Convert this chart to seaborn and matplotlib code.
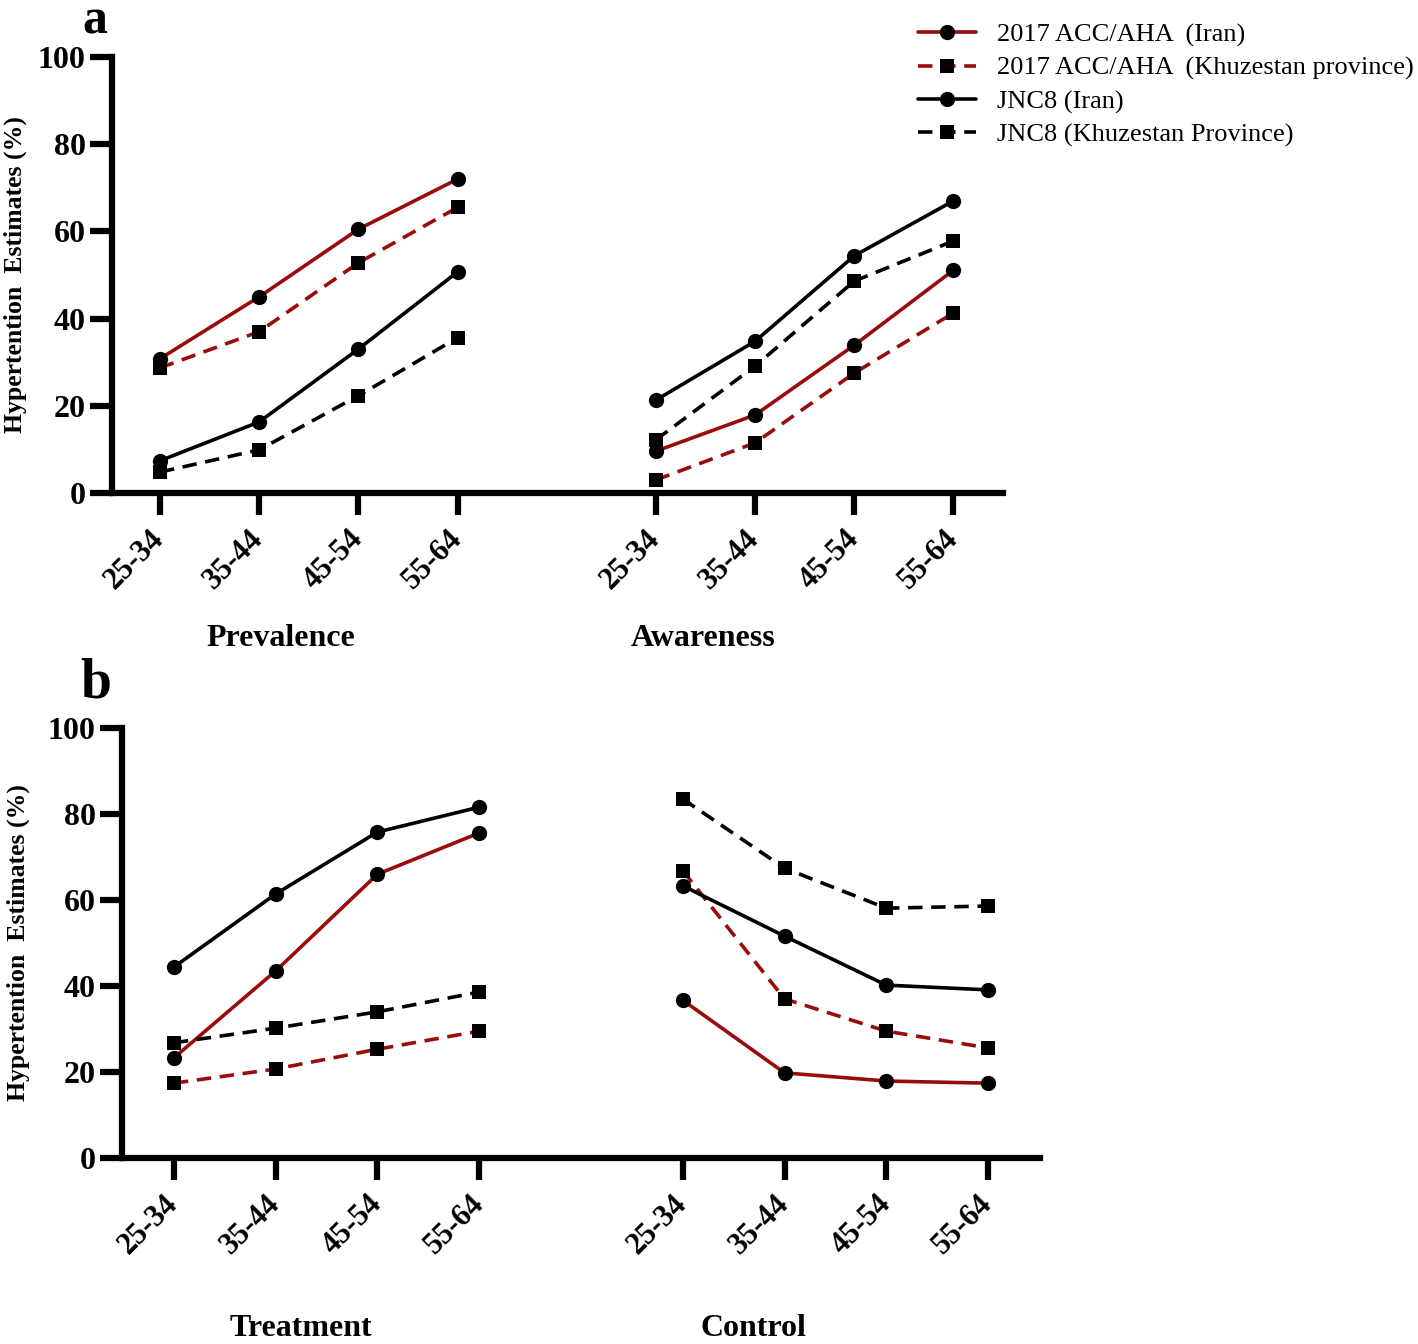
import numpy as np
import pandas as pd
import matplotlib.pyplot as plt
import seaborn as sns
from matplotlib import transforms

# age groups and series
ages = ['25-34', '35-44', '45-54', '55-64']
series = ['2017 ACC/AHA  (Iran)', '2017 ACC/AHA  (Khuzestan province)',
          'JNC8 (Iran)', 'JNC8 (Khuzestan Province)']

# panel a values (%)
prev_acc_iran = [30.8, 45.0, 60.5, 72.0]
prev_acc_khuz = [28.7, 37.0, 52.8, 65.5]
prev_jnc_iran = [7.4, 16.3, 33.0, 50.7]
prev_jnc_khuz = [4.8, 9.9, 22.3, 35.6]

aware_acc_iran = [9.6, 17.9, 33.9, 51.1]
aware_acc_khuz = [3.0, 11.5, 27.5, 41.3]
aware_jnc_iran = [21.3, 34.8, 54.4, 67.0]
aware_jnc_khuz = [12.2, 29.1, 48.6, 57.8]

# panel b values (%)
treat_acc_iran = [23.3, 43.5, 66.0, 75.6]
treat_acc_khuz = [17.4, 20.7, 25.3, 29.5]
treat_jnc_iran = [44.4, 61.4, 75.8, 81.6]
treat_jnc_khuz = [26.8, 30.2, 34.0, 38.6]

ctrl_acc_iran = [36.7, 19.8, 17.9, 17.4]
ctrl_acc_khuz = [66.8, 37.0, 29.5, 25.6]
ctrl_jnc_iran = [63.3, 51.6, 40.2, 39.1]
ctrl_jnc_khuz = [83.5, 67.4, 58.1, 58.6]

groups_a = ['Prevalence', 'Awareness']
groups_b = ['Treatment', 'Control']

rows = []
def add(panel, group, gi, vals_list):
    for s, vals in zip(series, vals_list):
        for i, (a, v) in enumerate(zip(ages, vals)):
            rows.append(dict(panel=panel, group=group, series=s, age=a,
                             x=i + gi * 5, value=v))

add('a', 'Prevalence', 0, [prev_acc_iran, prev_acc_khuz, prev_jnc_iran, prev_jnc_khuz])
add('a', 'Awareness', 1, [aware_acc_iran, aware_acc_khuz, aware_jnc_iran, aware_jnc_khuz])
add('b', 'Treatment', 0, [treat_acc_iran, treat_acc_khuz, treat_jnc_iran, treat_jnc_khuz])
add('b', 'Control', 1, [ctrl_acc_iran, ctrl_acc_khuz, ctrl_jnc_iran, ctrl_jnc_khuz])
df = pd.DataFrame(rows)

red = '#9a0c0c'
dash = (0, (4, 2.4))
colors = {series[0]: red, series[1]: red, series[2]: 'black', series[3]: 'black'}
lstyles = {series[0]: '-', series[1]: dash, series[2]: '-', series[3]: dash}
marks = {series[0]: 'o', series[1]: 's', series[2]: 'o', series[3]: 's'}
msizes = {'o': 11, 's': 9.5}

sns.set_style('ticks')
plt.rcParams['font.family'] = ['Liberation Serif', 'DejaVu Serif']
plt.rcParams['text.color'] = 'black'
plt.rcParams['axes.labelcolor'] = 'black'
plt.rcParams['axes.edgecolor'] = 'black'
plt.rcParams['xtick.color'] = 'black'
plt.rcParams['ytick.color'] = 'black'

fig = plt.figure(figsize=(14.18, 13.44), dpi=100)
ax_a = fig.add_axes([112/1418, 1-493/1344, (1003-112)/1418, (493-57)/1344])
ax_b = fig.add_axes([122/1418, 1-1158/1344, (1040-122)/1418, (1158-728)/1344])

handles = []
for ax, panel, groups, glab_x, glab_y, xlim, ylab_x in [
        (ax_a, 'a', groups_a, [1.22, 5.48], -0.333, (-0.484, 8.5), -0.0954),
        (ax_b, 'b', groups_b, [1.25, 5.69], -0.397, (-0.51, 8.51), -0.100)]:
    sub = df[df.panel == panel]
    for s in series:
        d = sub[sub.series == s]
        sns.lineplot(data=d, x='x', y='value', units='group', estimator=None,
                     ax=ax, color=colors[s], linestyle=lstyles[s], lw=2.6,
                     marker=marks[s], markersize=msizes[marks[s]],
                     markerfacecolor='black', markeredgecolor='black',
                     markeredgewidth=0, legend=False, clip_on=False, zorder=3)
        if panel == 'a':
            ln = ax.lines[-1]
            ln.set_label(s)
            handles.append(ln)

    ax.set_ylim(0, 100)
    ax.set_xlim(*xlim)
    ax.set_yticks([0, 20, 40, 60, 80, 100])
    ticks = sorted(sub.x.unique())
    ax.set_xticks(ticks)
    ax.set_xticklabels(ages * 2, rotation=45, ha='right', va='center',
                       rotation_mode='anchor', fontsize=22, fontweight='bold')
    for lab in ax.get_yticklabels():
        lab.set_fontsize(23)
        lab.set_fontweight('bold')
    ax.tick_params(axis='both', length=16, width=4.5, direction='out')
    ax.tick_params(axis='x', pad=14)
    ax.tick_params(axis='y', pad=3)
    for sp in ['left', 'bottom']:
        ax.spines[sp].set_linewidth(4.5)
    sns.despine(ax=ax)
    ax.set_xlabel('')
    ax.set_ylabel('Hypertention  Estimates (%)', fontsize=18.5, fontweight='bold')
    ax.yaxis.set_label_coords(ylab_x, 0.5)

    trans = transforms.blended_transform_factory(ax.transData, ax.transAxes)
    for gx, g in zip(glab_x, groups):
        ax.text(gx, glab_y, g, transform=trans, ha='center', va='center',
                fontsize=23, fontweight='bold')

fig.text(95/1418, 1-34/1344, 'a', fontsize=36, fontweight='bold', ha='center', va='baseline')
fig.text(96/1418, 1-698/1344, 'b', fontsize=40, fontweight='bold', ha='center', va='baseline')

fig.legend(handles=handles, labels=series, loc='upper left',
           bbox_to_anchor=(918/1418, 1-23/1344), frameon=False, fontsize=19,
           handlelength=2.2, handletextpad=0.8, labelspacing=0.36,
           borderaxespad=0, borderpad=0)

fig.savefig('out.png', dpi=100)
